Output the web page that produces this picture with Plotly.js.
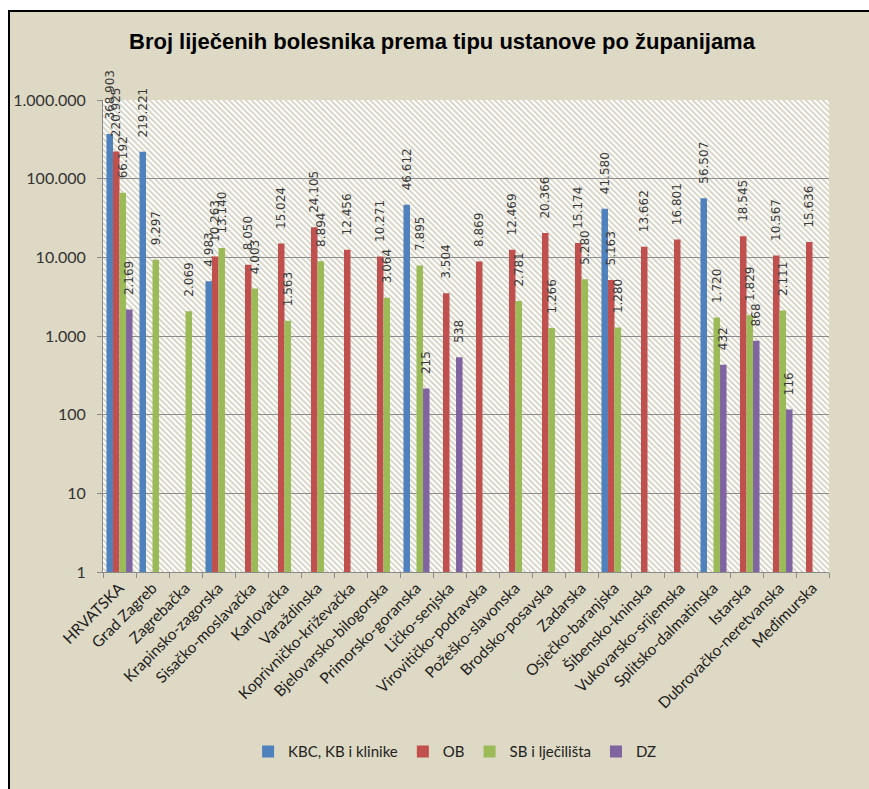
<!DOCTYPE html>
<html><head><meta charset="utf-8">
<script src="https://cdn.plot.ly/plotly-3.0.1.min.js"></script>
<style>html,body{margin:0;padding:0;background:#fff}</style>
</head><body><div id="chart" style="width:869px;height:789px"></div>
<script>
const categories = ['HRVATSKA','Grad Zagreb','Zagrebačka','Krapinsko-zagorska','Sisačko-moslavačka','Karlovačka','Varaždinska','Koprivničko-križevačka','Bjelovarsko-bilogorska','Primorsko-goranska','Ličko-senjska','Virovitičko-podravska','Požeško-slavonska','Brodsko-posavska','Zadarska','Osječko-baranjska','Šibensko-kninska','Vukovarsko-srijemska','Splitsko-dalmatinska','Istarska','Dubrovačko-neretvanska','Međimurska'];
const kbc = [368903, 219221, null, 4983, null, null, null, null, null, 46612, null, null, null, null, null, 41580, null, null, 56507, null, null, null];
const ob  = [220925, null, null, 10263, 8050, 15024, 24105, 12456, 10271, null, 3504, 8869, 12469, 20366, 15174, 5163, 13662, 16801, null, 18545, 10567, 15636];
const sb  = [66192, 9297, 2069, 13140, 4003, 1563, 8894, null, 3064, 7895, null, null, 2781, 1266, 5280, 1280, null, null, 1720, 1829, 2111, null];
const dz  = [2169, null, null, null, null, null, null, null, null, 215, 538, null, null, null, null, null, null, null, 432, 868, 116, null];
const seriesNames = ['KBC, KB i klinike', 'OB', 'SB i lječilišta', 'DZ'];
const seriesColors = ['#4F81BD', '#C0504D', '#9BBB59', '#8064A2'];
const yTickVals = [1, 10, 100, 1000, 10000, 100000, 1000000];
const yTickText = ['1', '10', '100', '1.000', '10.000', '100.000', '1.000.000'];
const chartTitle = 'Broj liječenih bolesnika prema tipu ustanove po županijama';

const seriesValues = [kbc, ob, sb, dz];
const traces = seriesValues.map((vals, i) => ({
  type: 'bar',
  x: categories,
  y: vals,
  name: seriesNames[i],
  marker: {color: seriesColors[i]},
  texttemplate: '\u00a0\u00a0\u00a0%{y:,}',
  textposition: 'outside',
  textangle: -90,
  constraintext: 'none',
  cliponaxis: false,
  textfont: {family: 'DejaVu Sans', size: 12, color: '#3a3a3a'},
  hoverinfo: 'skip'
}));

const hatchSvg = '<svg xmlns="http://www.w3.org/2000/svg" width="726" height="472">' +
  '<defs><pattern id="h" width="4" height="4" patternUnits="userSpaceOnUse" patternTransform="rotate(-45)">' +
  '<rect width="4" height="4" fill="#ffffff"/><rect width="1.7" height="4" fill="#D4D0BF"/></pattern></defs>' +
  '<rect width="726" height="472" fill="url(#h)"/></svg>';

const layout = {
  width: 869, height: 789,
  margin: {l: 103, r: 40, t: 100, b: 217, pad: 0, autoexpand: false},
  paper_bgcolor: '#DDD9C4',
  plot_bgcolor: 'rgba(0,0,0,0)',
  separators: ',.',
  barmode: 'group',
  bargap: 0.21,
  bargroupgap: 0,
  showlegend: true,
  title: {
    text: chartTitle,
    font: {family: 'Liberation Sans, Arial', size: 22, weight: 'bold', color: '#000'},
    xref: 'container', x: 0.5086, xanchor: 'center',
    yref: 'container', y: 0.9480, yanchor: 'middle'
  },
  xaxis: {
    type: 'category',
    tickangle: -45,
    tickfont: {family: 'Lato', size: 15.5, color: '#1e1e1e'},
    ticks: 'outside', ticklen: 5, tickcolor: '#8a8a8a', tickson: 'boundaries',
    showline: true, linecolor: '#8a8a8a', linewidth: 1,
    showgrid: false, zeroline: false, fixedrange: true
  },
  yaxis: {
    type: 'log',
    range: [0, 6],
    tickmode: 'array', tickvals: yTickVals, ticktext: yTickText,
    ticks: 'outside', ticklen: 5, tickcolor: '#8a8a8a',
    ticklabelstandoff: 8,
    showline: true, linecolor: '#8a8a8a', linewidth: 1,
    showgrid: true, gridcolor: '#8c8c8c', gridwidth: 1,
    zeroline: false,
    tickfont: {family: 'Lato', size: 16, color: '#333'},
    fixedrange: true
  },
  legend: {
    orientation: 'h', x: 0.485, xanchor: 'center', y: -0.381, yanchor: 'middle',
    font: {family: 'Lato', size: 15, color: '#222'},
    bgcolor: 'rgba(0,0,0,0)', traceorder: 'normal'
  },
  images: [{
    source: 'data:image/svg+xml;charset=utf-8,' + encodeURIComponent(hatchSvg),
    xref: 'paper', yref: 'paper', x: 0, y: 1, sizex: 1, sizey: 1,
    xanchor: 'left', yanchor: 'top', sizing: 'stretch', layer: 'below'
  }],
  shapes: [
    {type: 'rect', xref: 'paper', yref: 'paper', x0: -0.2, x1: 1.2, y0: 1.19068, y1: 1.3, fillcolor: '#ffffff', line: {width: 0}, layer: 'below'},
    {type: 'rect', xref: 'paper', yref: 'paper', x0: -0.2, x1: -0.13085, y0: -0.6, y1: 1.3, fillcolor: '#ffffff', line: {width: 0}, layer: 'below'},
    {type: 'rect', xref: 'paper', yref: 'paper', x0: -0.12948, x1: 1.2, y0: -0.6, y1: 1.18856, fillcolor: 'rgba(0,0,0,0)', line: {color: '#000', width: 2}, layer: 'below'}
  ]
};

Plotly.newPlot('chart', traces, layout, {displayModeBar: false, staticPlot: true});
</script></body></html>
